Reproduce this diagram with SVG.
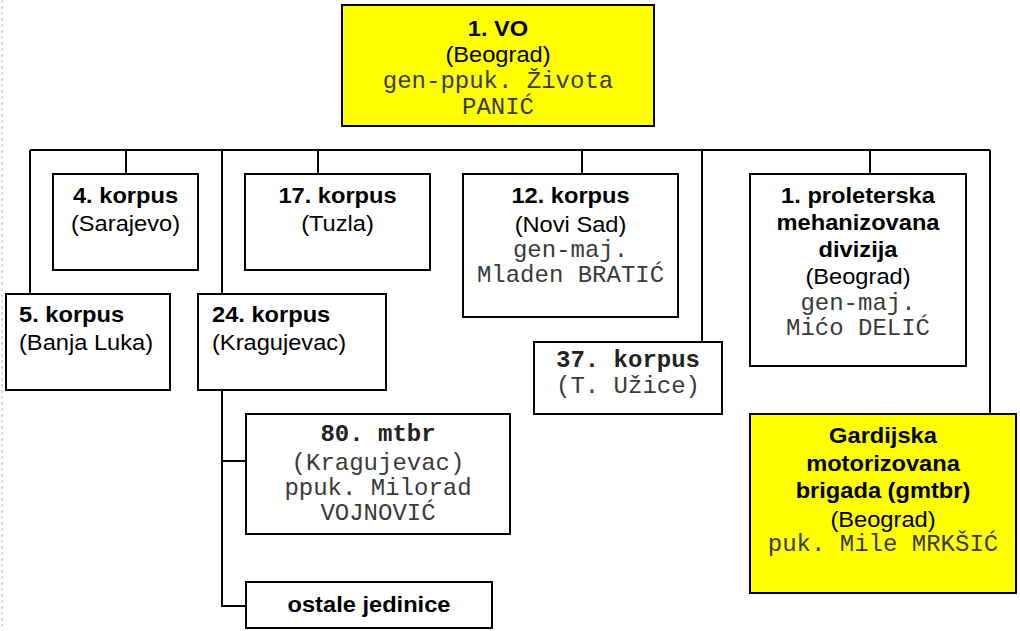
<svg xmlns="http://www.w3.org/2000/svg" width="1020" height="631" viewBox="0 0 1020 631">
<style>
.box{fill:#fff;stroke:#000;stroke-width:2}
.yel{fill:#ffff00;stroke:#000;stroke-width:2}
.ln{fill:none;stroke:#000;stroke-width:2}
.b{font-family:"Liberation Sans",Arial,sans-serif;font-weight:bold;font-size:21.5px;fill:#000}
.r{font-family:"Liberation Sans",Arial,sans-serif;font-size:21.5px;fill:#000}
.m{font-family:"Liberation Mono","Courier New",monospace;font-size:24px;fill:#3a3a3a}
.mb{font-family:"Liberation Mono","Courier New",monospace;font-size:24px;font-weight:bold;fill:#222}
.c{text-anchor:middle}
</style>
<line x1="2" y1="0" x2="2" y2="631" stroke="#bbb" stroke-width="1" stroke-dasharray="3,3"/>
<g id="connectors">
<path class="ln" d="M30,150 H990"/>
<path class="ln" d="M30,150 V294"/>
<path class="ln" d="M126,150 V174"/>
<path class="ln" d="M222,150 V606 H246"/>
<path class="ln" d="M222,461 H246"/>
<path class="ln" d="M318,150 V174"/>
<path class="ln" d="M582,150 V174"/>
<path class="ln" d="M702,150 V342"/>
<path class="ln" d="M870,150 V174"/>
<path class="ln" d="M990,150 V414"/>
</g>
<g id="vo">
<rect class="yel" x="342" y="5" width="312" height="121"/>
<text class="b c" transform="translate(498,36) scale(1.1,1)">1. VO</text>
<text class="r c" transform="translate(498,62) scale(1.1,1)">(Beograd)</text>
<text class="m c" x="498" y="88">gen-ppuk. Života</text>
<text class="m c" x="498" y="114">PANIĆ</text>
</g>
<g id="k4">
<rect class="box" x="53" y="174" width="145" height="96"/>
<text class="b c" transform="translate(125.5,203) scale(1.1,1)">4. korpus</text>
<text class="r c" transform="translate(125.5,231) scale(1.1,1)">(Sarajevo)</text>
</g>
<g id="k17">
<rect class="box" x="245" y="174" width="185" height="96"/>
<text class="b c" transform="translate(337.5,203) scale(1.1,1)">17. korpus</text>
<text class="r c" transform="translate(337.5,231) scale(1.1,1)">(Tuzla)</text>
</g>
<g id="k5">
<rect class="box" x="6" y="294" width="164" height="96"/>
<text class="b" transform="translate(19,322) scale(1.1,1)">5. korpus</text>
<text class="r" transform="translate(19,350) scale(1.1,1)">(Banja Luka)</text>
</g>
<g id="k24">
<rect class="box" x="198" y="294" width="188" height="96"/>
<text class="b" transform="translate(212,322) scale(1.1,1)">24. korpus</text>
<text class="r" transform="translate(212,350) scale(1.1,1)">(Kragujevac)</text>
</g>
<g id="k12">
<rect class="box" x="463" y="174" width="215" height="143"/>
<text class="b c" transform="translate(570.5,203) scale(1.1,1)">12. korpus</text>
<text class="r c" transform="translate(570.5,232) scale(1.1,1)">(Novi Sad)</text>
<text class="m c" x="570.5" y="257">gen-maj.</text>
<text class="m c" x="570.5" y="282">Mladen BRATIĆ</text>
</g>
<g id="k37">
<rect class="box" x="534" y="342" width="188" height="72"/>
<text class="mb c" x="628" y="367">37. korpus</text>
<text class="m c" x="628" y="393">(T. Užice)</text>
</g>
<g id="pmd">
<rect class="box" x="750" y="174" width="216" height="192"/>
<text class="b c" transform="translate(858,203) scale(1.1,1)">1. proleterska</text>
<text class="b c" transform="translate(858,230) scale(1.1,1)">mehanizovana</text>
<text class="b c" transform="translate(858,257) scale(1.1,1)">divizija</text>
<text class="r c" transform="translate(858,284) scale(1.1,1)">(Beograd)</text>
<text class="m c" x="858" y="310">gen-maj.</text>
<text class="m c" x="858" y="335">Mićo DELIĆ</text>
</g>
<g id="gmtbr">
<rect class="yel" x="750" y="414" width="266" height="179"/>
<text class="b c" transform="translate(883,443) scale(1.1,1)">Gardijska</text>
<text class="b c" transform="translate(883,471) scale(1.1,1)">motorizovana</text>
<text class="b c" transform="translate(883,498) scale(1.1,1)">brigada (gmtbr)</text>
<text class="r c" transform="translate(883,527) scale(1.1,1)">(Beograd)</text>
<text class="m c" x="883" y="551">puk. Mile MRKŠIĆ</text>
</g>
<g id="mtbr80">
<rect class="box" x="246" y="414" width="264" height="120"/>
<text class="mb c" x="378" y="441">80. mtbr</text>
<text class="m c" x="378" y="470">(Kragujevac)</text>
<text class="m c" x="378" y="495">ppuk. Milorad</text>
<text class="m c" x="378" y="520">VOJNOVIĆ</text>
</g>
<g id="ostale">
<rect class="box" x="246" y="582" width="246" height="46"/>
<text class="b c" transform="translate(369,612) scale(1.1,1)">ostale jedinice</text>
</g>
</svg>
